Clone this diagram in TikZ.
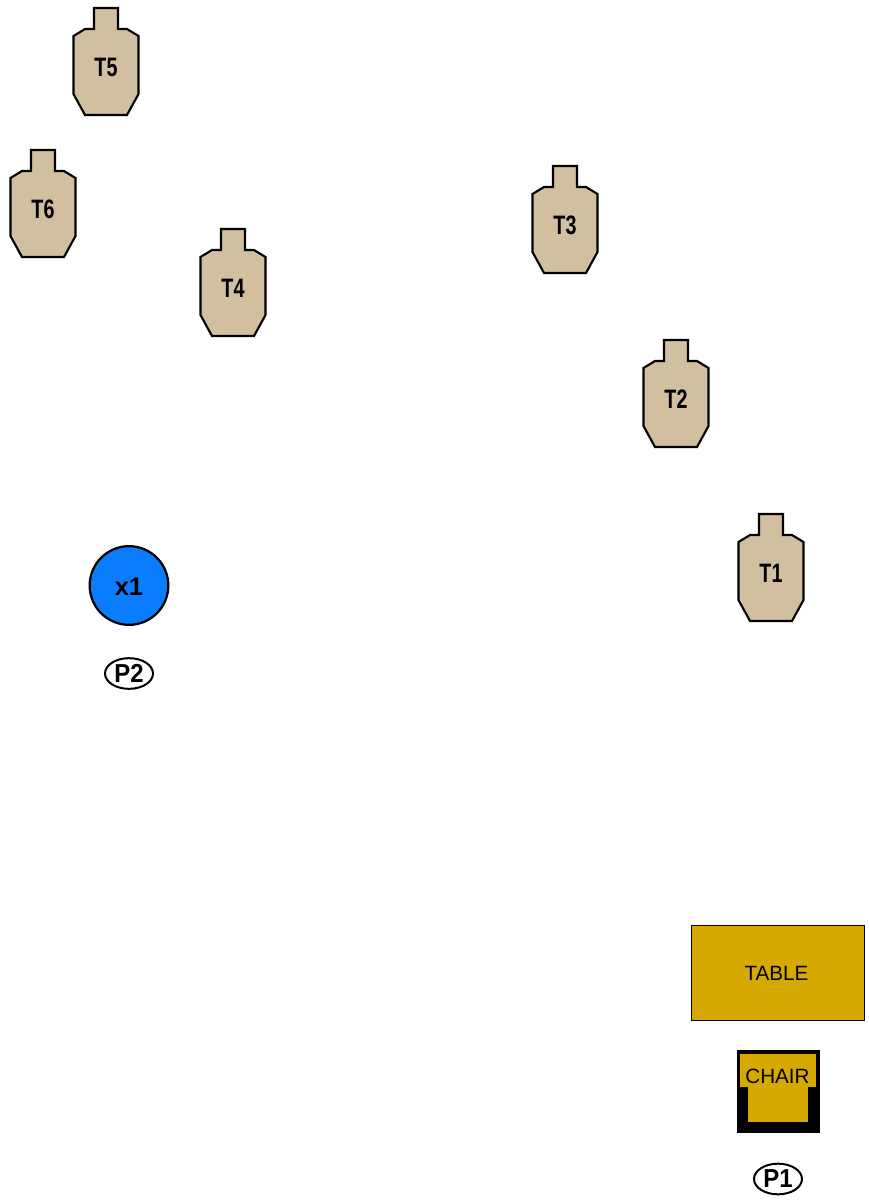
\documentclass[tikz,border=0pt]{standalone}
\usepackage{fontspec}
\setmainfont{Liberation Sans}
\newfontfamily\narrowbold[FakeStretch=0.74]{Liberation Sans}
\newfontfamily\tightbold[FakeStretch=0.92]{Liberation Sans}
\usetikzlibrary{shapes.geometric}
\definecolor{tan}{HTML}{D2BFA0}
\definecolor{gold}{HTML}{D6A900}
\definecolor{noshoot}{HTML}{0A7DFF}
\begin{document}
\begin{tikzpicture}[x=0.75pt,y=-0.75pt,
  target/.style={draw,fill=tan,line width=1.6pt,line join=miter},
  tlabel/.style={font=\narrowbold\bfseries\fontsize{20}{20}\selectfont,inner sep=0pt},
  furniture/.style={draw,fill=gold,line width=1pt,font=\fontsize{15.5}{16}\selectfont,inner sep=0pt},
  position/.style={draw,ellipse,line width=1.5pt,minimum width=36pt,minimum height=23pt,inner sep=0pt,font=\tightbold\bfseries\fontsize{19.5}{20}\selectfont}]
\useasboundingbox (0,0) rectangle (868,1200);
% targets
\foreach \tname/\tx/\ty in {T5/106/8,T6/43/150,T4/233/229,T3/565/166,T2/676/340,T1/771/514}{
  \begin{scope}[shift={(\tx,\ty)}]
  \draw[target] (-12,0)--(12,0)--(12,21)--(21,21)--(32.5,28)--(32.5,86)--(21,107)--(-21,107)--(-32.5,86)--(-32.5,28)--(-21,21)--(-12,21)--cycle;
  \node[tlabel] (\tname) at (0,59) {\tname};
  \end{scope}
}
% no-shoot and shooter positions
\node[circle,draw,fill=noshoot,line width=1.7pt,minimum size=59pt,inner sep=0pt] (x1) at (129,585.5) {};
\node[font=\bfseries\fontsize{19}{19}\selectfont,inner sep=0pt] at (129,587) {x1};
\node[position] (P2) at (129,673.5) {P2};
\node[position] (P1) at (778,1179) {P1};
% table and chair
\node[draw,fill=gold,line width=1pt,minimum width=130pt,minimum height=71.25pt] (table) at (778,973) {};
\node[font=\fontsize{15.5}{16}\selectfont,inner sep=0pt] at (776.5,973) {TABLE};
\fill (737,1050) rectangle (820,1133);
\fill[gold] (740,1054) rectangle (816,1087);
\fill[gold] (748,1087) rectangle (808,1122);
\node[font=\fontsize{15.5}{16}\selectfont,inner sep=0pt] (chair) at (777.5,1076) {CHAIR};
\end{tikzpicture}
\end{document}
